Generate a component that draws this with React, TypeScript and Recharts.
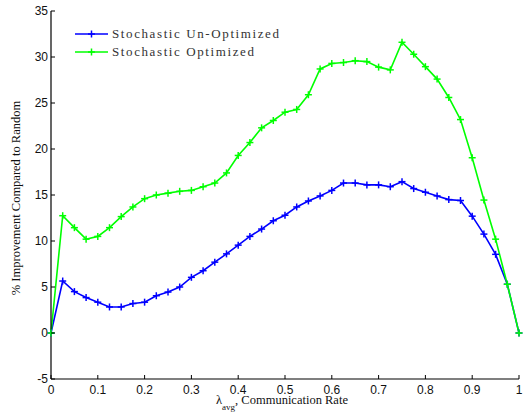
import { LineChart, Line, XAxis, YAxis, Legend } from "recharts";

const lambdaAvg = [
  0, 0.025, 0.05, 0.075, 0.1, 0.125, 0.15, 0.175, 0.2, 0.225, 0.25, 0.275, 0.3,
  0.325, 0.35, 0.375, 0.4, 0.425, 0.45, 0.475, 0.5, 0.525, 0.55, 0.575, 0.6,
  0.625, 0.65, 0.675, 0.7, 0.725, 0.75, 0.775, 0.8, 0.825, 0.85, 0.875, 0.9,
  0.925, 0.95, 0.975, 1,
];

const unOptimized = [
  0, 5.65, 4.5, 3.85, 3.35, 2.83, 2.83, 3.2, 3.35, 4.05, 4.45, 5.0, 6.05, 6.77,
  7.7, 8.6, 9.55, 10.5, 11.3, 12.2, 12.8, 13.7, 14.35, 14.9, 15.5, 16.3, 16.3,
  16.1, 16.1, 15.9, 16.45, 15.7, 15.3, 14.9, 14.5, 14.4, 12.7, 10.75, 8.55, 5.3,
  0,
];

const optimized = [
  0, 12.75, 11.45, 10.2, 10.5, 11.45, 12.65, 13.7, 14.6, 15.0, 15.2, 15.4, 15.5,
  15.9, 16.3, 17.4, 19.3, 20.7, 22.3, 23.1, 24.0, 24.3, 25.9, 28.7, 29.3, 29.4,
  29.6, 29.5, 28.9, 28.6, 31.6, 30.3, 28.95, 27.6, 25.6, 23.2, 19.05, 14.45,
  10.2, 5.3, 0,
];

const seriesNames = ["Stochastic Un-Optimized", "Stochastic Optimized"];

const xTicks = [0, 0.1, 0.2, 0.3, 0.4, 0.5, 0.6, 0.7, 0.8, 0.9, 1];
const yTicks = [-5, 0, 5, 10, 15, 20, 25, 30, 35];

const data = lambdaAvg.map((x, i) => ({
  x,
  un: unOptimized[i],
  opt: optimized[i],
}));

const TICK_FONT = "'Liberation Sans', Arial, sans-serif";
const SERIF = "'Liberation Serif', 'Times New Roman', serif";
const TL = 4;

const BottomTick = ({ x, y, payload }: any) => (
  <g>
    <line x1={x} y1={y} x2={x} y2={y - TL} stroke="#000" />
    <text x={x} y={y + 15} textAnchor="middle" fontSize={12} fontFamily={TICK_FONT} fill="#111">
      {payload.value}
    </text>
  </g>
);

const TopTick = ({ x, y }: any) => (
  <line x1={x} y1={y} x2={x} y2={y + TL} stroke="#000" />
);

const LeftTick = ({ x, y, payload }: any) => (
  <g>
    <line x1={x} y1={y} x2={x + TL} y2={y} stroke="#000" />
    <text x={x - 3} y={y + 4} textAnchor="end" fontSize={12} fontFamily={TICK_FONT} fill="#111">
      {payload.value}
    </text>
  </g>
);

const RightTick = ({ x, y }: any) => (
  <line x1={x} y1={y} x2={x - TL} y2={y} stroke="#000" />
);

const PlusDot = ({ cx, cy, stroke }: any) => {
  if (cx == null || cy == null) return null;
  return (
    <g>
      <line x1={cx - 3.5} y1={cy} x2={cx + 3.5} y2={cy} stroke={stroke} strokeWidth={1.5} />
      <line x1={cx} y1={cy - 3.5} x2={cx} y2={cy + 3.5} stroke={stroke} strokeWidth={1.5} />
    </g>
  );
};

const XLabel = ({ viewBox }: any) => {
  const cx = viewBox.x + viewBox.width / 2 - 3;
  return (
    <text x={cx} y={404} textAnchor="middle" fontSize={12.5} fontFamily={SERIF} fill="#111">
      <tspan>λ</tspan>
      <tspan dy={6} fontSize={9}>avg</tspan>
      <tspan dy={-6}>, Communication Rate</tspan>
    </text>
  );
};

const YLabel = () => (
  <text
    x={20}
    y={198}
    transform="rotate(-90 20 198)"
    textAnchor="middle"
    fontSize={12.5}
    fontFamily={SERIF}
    fill="#111"
  >
    % Improvement Compared to Random
  </text>
);

const LegendBox = ({ payload }: any) => {
  const items = [...(payload || [])].sort(
    (a: any, b: any) => seriesNames.indexOf(a.value) - seriesNames.indexOf(b.value)
  );
  return (
    <div>
      {items.map((p: any) => (
        <div key={p.value} style={{ display: "flex", alignItems: "center", height: 18 }}>
          <svg width={34} height={10}>
            <line x1={0} y1={5} x2={33} y2={5} stroke={p.color} strokeWidth={1.6} />
            <line x1={13} y1={5} x2={20} y2={5} stroke={p.color} strokeWidth={1.5} />
            <line x1={16.5} y1={1.5} x2={16.5} y2={8.5} stroke={p.color} strokeWidth={1.5} />
          </svg>
          <span
            style={{
              marginLeft: 3,
              fontFamily: SERIF,
              fontSize: 13,
              letterSpacing: 1.6,
              color: "#333",
              whiteSpace: "nowrap",
            }}
          >
            {p.value}
          </span>
        </div>
      ))}
    </div>
  );
};

export default function App() {
  return (
    <div style={{ position: "absolute", left: 0, top: 0, width: 529, height: 415, background: "#fff" }}>
      <LineChart width={529} height={415} data={data} margin={{ top: 11, right: 10, left: 0, bottom: 0 }}>
        <XAxis
          dataKey="x"
          type="number"
          domain={[0, 1]}
          ticks={xTicks}
          height={36}
          tickSize={0}
          tickMargin={0}
          tick={<BottomTick />}
          axisLine={{ stroke: "#000", strokeWidth: 1.2 }}
          label={<XLabel />}
        />
        <XAxis
          xAxisId="top"
          orientation="top"
          dataKey="x"
          type="number"
          domain={[0, 1]}
          ticks={xTicks}
          height={0}
          tickSize={0}
          tickMargin={0}
          tick={<TopTick />}
          axisLine={{ stroke: "#000", strokeWidth: 1.2 }}
        />
        <YAxis
          type="number"
          domain={[-5, 35]}
          ticks={yTicks}
          width={51}
          tickSize={0}
          tickMargin={0}
          tick={<LeftTick />}
          axisLine={{ stroke: "#000", strokeWidth: 1.2 }}
          label={<YLabel />}
        />
        <YAxis
          yAxisId="right"
          orientation="right"
          type="number"
          domain={[-5, 35]}
          ticks={yTicks}
          width={0}
          tickSize={0}
          tickMargin={0}
          tick={<RightTick />}
          axisLine={{ stroke: "#000", strokeWidth: 1.2 }}
        />
        <Legend
          layout="vertical"
          align="center"
          verticalAlign="middle"
          wrapperStyle={{ left: 75, top: 25, width: "auto" }}
          content={<LegendBox />}
        />
        <Line
          dataKey="un"
          name={seriesNames[0]}
          stroke="#0000ff"
          strokeWidth={1.6}
          dot={<PlusDot />}
          activeDot={false}
          isAnimationActive={false}
        />
        <Line
          dataKey="opt"
          name={seriesNames[1]}
          stroke="#00ff00"
          strokeWidth={1.6}
          dot={<PlusDot />}
          activeDot={false}
          isAnimationActive={false}
        />
      </LineChart>
    </div>
  );
}
